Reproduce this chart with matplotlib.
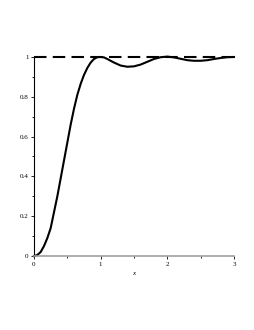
#!/usr/bin/env python3
import matplotlib

matplotlib.use("Agg")

import matplotlib.pyplot as plt
from matplotlib.ticker import MultipleLocator

# step response
t_values = [0.0, 0.05, 0.1, 0.15, 0.2, 0.25, 0.3, 0.35, 0.4, 0.45, 0.5, 0.55,
            0.6, 0.65, 0.7, 0.75, 0.8, 0.85, 0.9, 0.95, 1.0, 1.05, 1.1, 1.2,
            1.3, 1.4, 1.5, 1.6, 1.7, 1.8, 1.9, 2.0, 2.1, 2.2, 2.3, 2.4, 2.5,
            2.6, 2.7, 2.8, 2.9, 3.0]
y_values = [0.0, 0.005, 0.02, 0.05, 0.09, 0.14, 0.22, 0.30, 0.39, 0.48, 0.57,
            0.66, 0.74, 0.81, 0.865, 0.91, 0.945, 0.972, 0.99, 0.999, 1.0,
            0.998, 0.99, 0.972, 0.957, 0.951, 0.953, 0.962, 0.976, 0.99,
            0.999, 1.002, 0.998, 0.991, 0.984, 0.981, 0.981, 0.984, 0.99,
            0.995, 0.999, 1.0]
reference_t = [0.0, 3.0]
reference_y = [1.0, 1.0]

x_ticks = [0, 1, 2, 3]
y_ticks = [0, 0.2, 0.4, 0.6, 0.8, 1]
y_tick_labels = ["0", "0.2", "0.4", "0.6", "0.8", "1"]

plt.rcParams["font.family"] = ["Liberation Serif", "DejaVu Serif"]

fig = plt.figure(figsize=(2.55, 3.3), dpi=100)
ax = fig.add_axes([34 / 255, 74 / 330, 200 / 255, 199 / 330])

ax.plot(reference_t, reference_y, color="black", lw=1.5, ls=(0, (6, 3)),
        clip_on=False)
ax.plot(t_values, y_values, color="black", lw=1.5, clip_on=False,
        solid_joinstyle="round")

ax.set_xlim(0, 3)
ax.set_ylim(0, 1)
ax.set_xticks(x_ticks)
ax.set_xticklabels([str(v) for v in x_ticks])
ax.set_yticks(y_ticks)
ax.set_yticklabels(y_tick_labels)
ax.xaxis.set_minor_locator(MultipleLocator(0.5))
ax.yaxis.set_minor_locator(MultipleLocator(0.1))

for side in ("top", "right"):
    ax.spines[side].set_visible(False)
ax.spines["bottom"].set_color("#a0a0a0")
ax.spines["bottom"].set_linewidth(1.2)
ax.spines["left"].set_color("black")
ax.spines["left"].set_linewidth(0.8)

ax.tick_params(axis="both", which="both", direction="out", labelsize=5,
               width=0.6, pad=1.5)
ax.tick_params(axis="both", which="major", length=2.5)
ax.tick_params(axis="both", which="minor", length=1.5)

ax.set_xlabel("x", fontsize=5, style="italic", labelpad=3)

fig.savefig("out.png", dpi=100, facecolor="white")
plt.close(fig)
